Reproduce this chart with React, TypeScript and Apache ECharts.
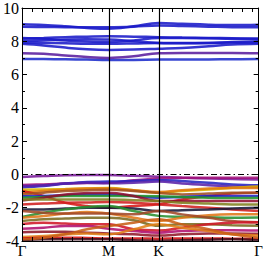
import React, { useEffect, useRef } from "react";
import * as echarts from "echarts";

// k-path nodes (Γ, M, K, Γ) in path-length units
const kNodes = [0, 0.866, 1.366, 2.366];
const kNodeLabels = ["Γ", "M", "K", "Γ"];
// sampled k positions along the path
const kPoints = [0, 0.2165, 0.433, 0.65, 0.866, 1.116, 1.366, 1.6, 1.866, 2.1, 2.366];

const yTicks = [-4, -2, 0, 2, 4, 6, 8, 10];
const yMin = -4;
const yMax = 10;
// spacing of the minor ticks along the k axis
const kTickInterval = 0.1;

// conduction bands
const conduction: { color: string; e: number[] }[] = [
  { color: "#1c2ccc", e: [6.93, 6.93, 6.92, 6.9, 6.88, 6.88, 6.9, 6.9, 6.91, 6.92, 6.93] },
  { color: "#5a1e9e", e: [7.28, 7.25, 7.15, 7.05, 7.0, 7.1, 7.28, 7.3, 7.3, 7.3, 7.28] },
  { color: "#1a1ac8", e: [7.85, 7.75, 7.62, 7.52, 7.48, 7.5, 7.55, 7.6, 7.7, 7.8, 7.85] },
  { color: "#1a1ac8", e: [7.92, 7.9, 7.88, 7.85, 7.85, 7.87, 7.9, 7.9, 7.9, 7.92, 7.93] },
  { color: "#1a1ac8", e: [8.0, 8.05, 8.1, 8.12, 8.1, 8.0, 7.9, 7.88, 7.9, 7.95, 8.0] },
  { color: "#1a1ac8", e: [8.15, 8.2, 8.25, 8.28, 8.3, 8.28, 8.25, 8.22, 8.2, 8.18, 8.15] },
  { color: "#1a1ac8", e: [8.2, 8.15, 8.05, 7.98, 7.95, 8.05, 8.2, 8.2, 8.18, 8.15, 8.15] },
  { color: "#1a1ac8", e: [9.02, 8.98, 8.9, 8.8, 8.75, 8.9, 9.1, 9.05, 9.0, 8.98, 9.0] },
  { color: "#1a1ac8", e: [8.88, 8.86, 8.85, 8.85, 8.85, 8.88, 8.95, 8.92, 8.88, 8.85, 8.85] },
];

// valence bands
const valence: { color: string; e: number[] }[] = [
  { color: "#7a1a9a", e: [-0.15, -0.1, -0.05, -0.03, -0.03, -0.08, -0.14, -0.2, -0.25, -0.28, -0.3] },
  { color: "#a0107a", e: [-0.63, -0.6, -0.55, -0.52, -0.5, -0.35, -0.24, -0.2, -0.2, -0.2, -0.2] },
  { color: "#2424c0", e: [-0.78, -0.7, -0.55, -0.45, -0.43, -0.4, -0.33, -0.4, -0.5, -0.6, -0.65] },
  { color: "#5a22a8", e: [-0.7, -0.65, -0.55, -0.5, -0.53, -0.5, -0.43, -0.55, -0.65, -0.72, -0.75] },
  { color: "#d8b400", e: [-0.92, -0.9, -0.88, -0.85, -0.82, -0.95, -1.1, -1.0, -0.9, -0.8, -0.72] },
  { color: "#e07a10", e: [-1.1, -1.0, -0.9, -0.85, -0.85, -0.95, -1.05, -0.95, -0.85, -0.82, -0.82] },
  { color: "#d81818", e: [-1.0, -1.3, -1.7, -1.9, -2.0, -1.9, -1.8, -1.5, -1.3, -1.15, -1.1] },
  { color: "#a05020", e: [-1.2, -1.1, -1.0, -0.95, -0.92, -1.0, -1.12, -1.2, -1.15, -1.1, -1.1] },
  { color: "#2020c8", e: [-1.31, -1.3, -1.25, -1.2, -1.2, -1.3, -1.4, -1.35, -1.3, -1.3, -1.3] },
  { color: "#20942a", e: [-1.4, -1.35, -1.3, -1.3, -1.3, -1.3, -1.31, -1.35, -1.4, -1.42, -1.4] },
  { color: "#901030", e: [-1.57, -1.4, -1.2, -1.12, -1.1, -1.3, -1.6, -1.6, -1.6, -1.6, -1.6] },
  { color: "#808020", e: [-1.5, -1.5, -1.5, -1.5, -1.5, -1.55, -1.6, -1.7, -1.75, -1.8, -1.8] },
  { color: "#d02020", e: [-1.8, -1.75, -1.7, -1.68, -1.65, -1.7, -1.8, -1.9, -2.0, -2.1, -2.2] },
  { color: "#181838", e: [-2.1, -2.1, -2.05, -2.0, -2.0, -2.05, -2.2, -2.15, -2.1, -2.05, -2.0] },
  { color: "#289030", e: [-2.55, -2.3, -2.1, -1.95, -1.9, -2.2, -2.49, -2.55, -2.58, -2.6, -2.59] },
  { color: "#e07818", e: [-2.6, -2.5, -2.35, -2.25, -2.35, -2.6, -2.8, -2.6, -2.45, -2.4, -2.4] },
  { color: "#a04828", e: [-2.2, -2.3, -2.35, -2.35, -2.35, -2.4, -2.2, -2.4, -2.6, -2.8, -2.88] },
  { color: "#7a6a20", e: [-2.8, -2.7, -2.65, -2.6, -2.6, -2.75, -3.08, -3.0, -3.0, -3.05, -3.08] },
  { color: "#d01828", e: [-2.98, -2.9, -2.95, -3.0, -3.0, -3.3, -3.37, -3.2, -3.0, -2.9, -2.88] },
  { color: "#b01070", e: [-3.27, -3.2, -3.1, -3.1, -3.27, -3.4, -3.5, -3.4, -3.35, -3.35, -3.37] },
  { color: "#901828", e: [-3.47, -3.45, -3.45, -3.5, -3.55, -3.6, -3.67, -3.6, -3.55, -3.55, -3.57] },
  { color: "#e08018", e: [-3.76, -3.7, -3.6, -3.55, -3.6, -3.3, -3.0, -3.2, -3.4, -3.6, -3.67] },
  { color: "#d01010", e: [-3.85, -3.8, -3.8, -3.82, -3.85, -3.85, -3.86, -3.85, -3.85, -3.86, -3.86] },
  { color: "#401020", e: [-3.95, -3.9, -3.9, -3.9, -3.9, -3.95, -4.0, -3.95, -3.92, -3.9, -3.95] },
  { color: "#c86018", e: [-3.9, -3.8, -3.6, -3.3, -3.1, -2.9, -2.7, -3.0, -3.3, -3.6, -3.8] },
];

export default function App() {
  const ref = useRef<HTMLDivElement>(null);
  useEffect(() => {
    document.body.style.margin = "0";
    if (!ref.current) return;
    const chart = echarts.init(ref.current, null, { renderer: "svg" });

    const font = "Liberation Serif, Times New Roman, serif";
    const bandSeries = [...conduction, ...valence].map((b) => ({
      type: "line",
      data: kPoints.map((k, i) => [k, b.e[i]]),
      smooth: 0.4,
      showSymbol: false,
      silent: true,
      lineStyle: { color: b.color, width: 2.5, opacity: 0.88 },
      z: 2,
    }));

    const yAxisBase = {
      type: "value",
      min: yMin,
      max: yMax,
      interval: 2,
      z: 10,
      splitLine: { show: false },
      axisLine: { show: true, onZero: false, lineStyle: { color: "#000", width: 1 } },
      axisTick: { show: true, inside: true, length: 5, lineStyle: { color: "#000" } },
      minorTick: { show: true, splitNumber: 2, length: 3, lineStyle: { color: "#000" } },
    };

    const xAxisBase = {
      type: "value",
      min: kNodes[0],
      max: kNodes[kNodes.length - 1],
      interval: kTickInterval,
      z: 10,
      splitLine: { show: false },
      axisLine: { show: true, onZero: false, lineStyle: { color: "#000", width: 1 } },
      axisTick: { show: true, inside: true, length: 4, lineStyle: { color: "#000", width: 1 } },
    };

    chart.setOption({
      animation: false,
      grid: { left: 22, right: 5, top: 6, bottom: 15, containLabel: false },
      xAxis: [
        {
          ...xAxisBase,
          position: "bottom",
          axisLabel: {
            show: true,
            customValues: kNodes,
            showMinLabel: true,
            showMaxLabel: true,
            formatter: (v: number) => {
              const idx = kNodes.findIndex((n) => Math.abs(n - v) < 1e-6);
              return idx >= 0 ? kNodeLabels[idx] : "";
            },
            fontFamily: font,
            fontSize: 15,
            color: "#000",
            margin: 2,
          },
        },
        { ...xAxisBase, position: "top", axisLabel: { show: false } },
      ],
      yAxis: [
        {
          ...yAxisBase,
          position: "left",
          axisLabel: {
            fontFamily: font,
            fontSize: 16,
            color: "#000",
            margin: 3,
            customValues: yTicks,
          },
        },
        { ...yAxisBase, position: "right", axisLabel: { show: false } },
      ],
      series: [
        ...bandSeries,
        {
          type: "line",
          data: [],
          silent: true,
          z: 9,
          markLine: {
            silent: true,
            symbol: "none",
            label: { show: false },
            data: [
              { xAxis: kNodes[1], lineStyle: { color: "#000", width: 1.2, type: "solid" } },
              { xAxis: kNodes[2], lineStyle: { color: "#000", width: 1.2, type: "solid" } },
              { yAxis: 0, lineStyle: { color: "#000", width: 1, type: [6, 3, 1.5, 3] } },
            ],
          },
        },
      ],
    });
    return () => chart.dispose();
  }, []);
  return <div ref={ref} style={{ width: 266, height: 258 }} />;
}
